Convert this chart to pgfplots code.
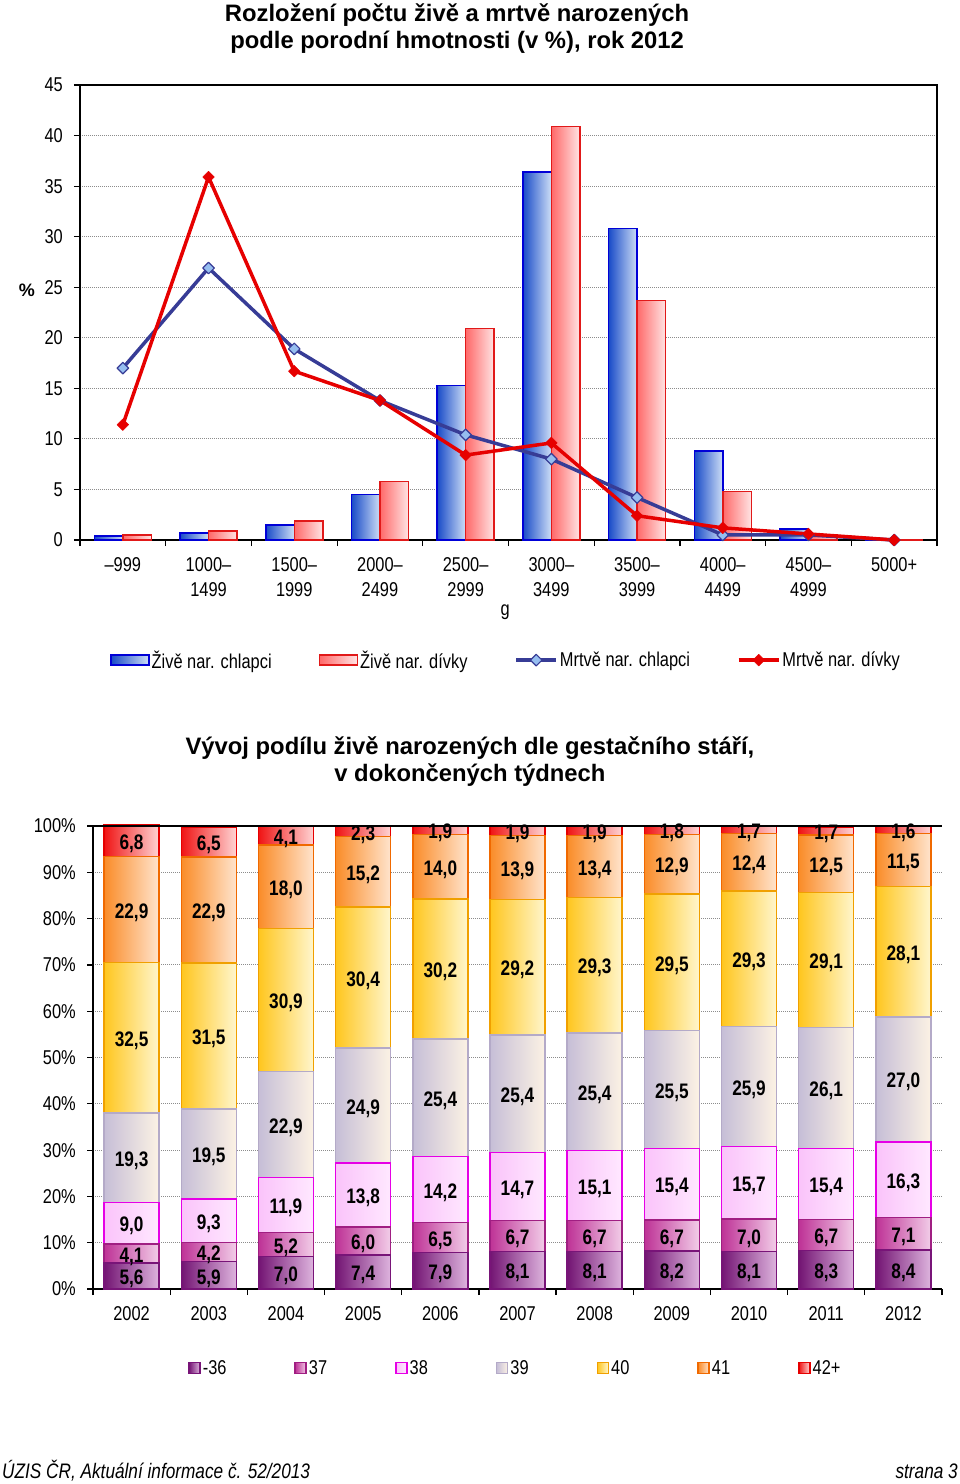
\documentclass[border=0pt]{standalone}
\usepackage{pgfplots}
\pgfplotsset{compat=1.18}
\usepackage{pgfplotstable}
\usepackage{fontspec}
\setmainfont{Liberation Sans}
\newfontfamily\narrow{Liberation Sans}[FakeStretch=0.82]

\definecolor{bluedark}{RGB}{25,75,200}
\definecolor{bluelight}{RGB}{205,222,246}
\definecolor{blueedge}{RGB}{0,0,215}
\definecolor{reddark}{RGB}{255,105,105}
\definecolor{redlight}{RGB}{255,228,228}
\definecolor{rededge}{RGB}{225,25,25}
\definecolor{navyline}{RGB}{55,60,150}
\definecolor{lightdiamond}{RGB}{150,190,240}
\definecolor{redline}{RGB}{230,0,0}
\definecolor{gridgray}{RGB}{140,140,140}

\definecolor{pA}{RGB}{115,20,115}\definecolor{pAl}{RGB}{222,180,222}\definecolor{pAe}{RGB}{120,20,120}
\definecolor{pB}{RGB}{190,50,150}\definecolor{pBl}{RGB}{242,205,232}\definecolor{pBe}{RGB}{160,30,130}
\definecolor{pC}{RGB}{250,195,250}\definecolor{pCl}{RGB}{255,232,255}\definecolor{pCe}{RGB}{230,0,230}
\definecolor{pD}{RGB}{198,190,215}\definecolor{pDl}{RGB}{252,242,228}\definecolor{pDe}{RGB}{180,170,200}
\definecolor{pE}{RGB}{255,198,30}\definecolor{pEl}{RGB}{255,246,205}\definecolor{pEe}{RGB}{240,160,0}
\definecolor{pF}{RGB}{250,140,40}\definecolor{pFl}{RGB}{255,228,205}\definecolor{pFe}{RGB}{240,105,0}
\definecolor{pG}{RGB}{240,20,20}\definecolor{pGl}{RGB}{255,212,212}\definecolor{pGe}{RGB}{230,0,0}

\pgfplotstableread{
x boys girls dboys dgirls
0 0.4 0.5 17.0 11.4
1 0.7 0.9 26.9 35.9
2 1.5 1.9 18.9 16.7
3 4.5 5.8 13.8 13.8
4 15.3 20.9 10.4 8.4
5 36.4 40.9 8.0 9.6
6 30.8 23.7 4.2 2.4
7 8.8 4.8 0.5 1.2
8 1.1 0.5 0.5 0.6
9 0.05 0.05 0.0 0.0
}\topdata

\pgfplotstableread{
x w36 w37 w38 w39 w40 w41 w42
0 5.6 4.1 9.0 19.3 32.5 22.9 6.8
1 5.9 4.2 9.3 19.5 31.5 22.9 6.5
2 7.0 5.2 11.9 22.9 30.9 18.0 4.1
3 7.4 6.0 13.8 24.9 30.4 15.2 2.3
4 7.9 6.5 14.2 25.4 30.2 14.0 1.9
5 8.1 6.7 14.7 25.4 29.2 13.9 1.9
6 8.1 6.7 15.1 25.4 29.3 13.4 1.9
7 8.2 6.7 15.4 25.5 29.5 12.9 1.8
8 8.1 7.0 15.7 25.9 29.3 12.4 1.7
9 8.3 6.7 15.4 26.1 29.1 12.5 1.7
10 8.4 7.1 16.3 27.0 28.1 11.5 1.6
}\botdata

\pgfplotsset{
  barlegend/.style={legend image code/.code={\draw[##1] (0pt,-5pt) rectangle (38pt,5pt);}},
  linelegend/.style={legend image code/.code={\draw[mark repeat=2,mark phase=2,##1] plot coordinates {(0pt,0pt) (20pt,0pt) (40pt,0pt)};}},
  sqlegend/.style={legend image code/.code={\draw[##1] (0pt,-5.5pt) rectangle (11pt,5.5pt);}},
  only row/.style={x filter/.code={\ifnum\coordindex=#1\relax\else\def\pgfmathresult{}\fi}},
  bboy/.style={ybar, bar width=28.5pt, bar shift=-14.25pt, draw=blueedge, line width=1.5pt, left color=bluedark, right color=bluelight},
  bgirl/.style={ybar, bar width=28.5pt, bar shift=14.25pt, draw=rededge, line width=1.5pt, left color=reddark, right color=redlight},
  s36/.style={draw=pAe, line width=1.5pt, left color=pA, right color=pAl},
  s37/.style={draw=pBe, line width=1.5pt, left color=pB, right color=pBl},
  s38/.style={draw=pCe, line width=1.5pt, left color=pC, right color=pCl},
  s39/.style={draw=pDe, line width=1.5pt, left color=pD, right color=pDl},
  s40/.style={draw=pEe, line width=1.5pt, left color=pE, right color=pEl},
  s41/.style={draw=pFe, line width=1.5pt, left color=pF, right color=pFl},
  s42/.style={draw=pGe, line width=1.5pt, left color=pG, right color=pGl},
  lab/.style={draw=none, mark=*, mark size=0pt, mark options={draw=none, fill=none}, point meta=explicit, forget plot},
  botgeom/.style={at={(93pt,-1289pt)}, anchor=south west, width=849pt, height=463pt, scale only axis, clip=false,
    xmin=-0.5, xmax=10.5, ymin=0, ymax=100},
}

\begin{document}
\begin{tikzpicture}
\path[use as bounding box] (0pt,0pt) rectangle (960pt,-1484pt);

% ---------------- top chart ----------------
\begin{axis}[
  at={(80pt,-540pt)}, anchor=south west,
  width=857pt, height=455pt, scale only axis, clip=false,
  xmin=-0.5, xmax=9.5, ymin=0, ymax=45,
  ytick={0,5,...,45},
  xtick={-0.5,0.5,...,9.5}, xticklabel=\empty,
  extra x ticks={0,...,9},
  extra x tick labels={{–999},{1000–\\1499},{1500–\\1999},{2000–\\2499},{2500–\\2999},{3000–\\3499},{3500–\\3999},{4000–\\4499},{4500–\\4999},{5000+}},
  extra x tick style={major tick length=0pt, tick style={draw=none}},
  tick align=outside, tick pos=left, major tick length=6pt,
  tick style={black, line width=1.2pt},
  ymajorgrids, major grid style={gridgray, dash pattern=on 1pt off 1pt, line width=0.9pt},
  axis line style={line width=1.6pt},
  /pgf/number format/assume math mode=true,
  ticklabel style={font=\narrow\fontsize{20}{25}\selectfont},
  yticklabel style={inner sep=0pt, xshift=-11pt},
  xticklabel style={align=center, inner sep=0pt, yshift=-17pt},
  xlabel={g}, xlabel style={font=\narrow\fontsize{20}{24}\selectfont, at={(axis description cs:0.496,-0.158)}, anchor=center},
  ylabel={\%}, ylabel style={font=\bfseries\fontsize{18}{20}\selectfont, rotate=-90, at={(axis description cs:-0.062,0.549)}, anchor=center},
  title={Rozložení počtu živě a mrtvě narozených\\podle porodní hmotnosti (v \%), rok 2012},
  title style={font=\bfseries\fontsize{23.8}{27}\selectfont, align=center, at={(axis description cs:0.44,1.110)}, anchor=center},
  legend columns=4,
  legend style={at={(axis description cs:0.035,-0.264)}, anchor=west, draw=none, fill=none, inner sep=0pt,
    font=\narrow\fontsize{20}{24}\selectfont, nodes={inner sep=2pt},
    /tikz/every even column/.append style={column sep=45pt}},
]
\addlegendimage{bboy, barlegend}
\addlegendentry{Živě nar. chlapci}
\addlegendimage{bgirl, barlegend}
\addlegendentry{Živě nar. dívky}
\pgfplotsinvokeforeach{0,...,9}{
  \addplot[bboy, forget plot, only row=#1] table[x=x,y=boys]{\topdata};
  \addplot[bgirl, forget plot, only row=#1] table[x=x,y=girls]{\topdata};
}
\addplot[navyline, line width=3.5pt, line join=round, mark=square*, mark size=4.1pt,
  mark options={solid, rotate=45, fill=lightdiamond, draw=navyline, line width=1.2pt}, linelegend]
  table[x=x,y=dboys]{\topdata};
\addlegendentry{Mrtvě nar. chlapci}
\addplot[redline, line width=3.5pt, line join=round, mark=square*, mark size=4.1pt,
  mark options={solid, rotate=45, fill=redline, draw=redline, line width=0.5pt}, linelegend]
  table[x=x,y=dgirls]{\topdata};
\addlegendentry{Mrtvě nar. dívky}
\end{axis}

% ---------------- bottom chart: frame, grid, labels, legend ----------------
\begin{axis}[
  botgeom,
  axis lines*=left,
  ytick={0,10,...,100},
  yticklabel={\pgfmathprintnumber{\tick}\%},
  xtick={-0.5,0.5,...,10.5}, xticklabel=\empty,
  extra x ticks={0,...,10},
  extra x tick labels={2002,2003,2004,2005,2006,2007,2008,2009,2010,2011,2012},
  extra x tick style={major tick length=0pt, tick style={draw=none}},
  tick align=outside, major tick length=6pt,
  tick style={black, line width=1.2pt},
  ymajorgrids, major grid style={gridgray, dash pattern=on 1pt off 1pt, line width=0.9pt},
  axis line style={line width=1.6pt},
  /pgf/number format/assume math mode=true,
  ticklabel style={font=\narrow\fontsize{20}{25}\selectfont},
  yticklabel style={inner sep=0pt, xshift=-11pt},
  xticklabel style={align=center, inner sep=0pt, yshift=-17pt},
  title={Vývoj podílu živě narozených dle gestačního stáří,\\v dokončených týdnech},
  title style={font=\bfseries\fontsize{23.8}{27}\selectfont, align=center, at={(axis description cs:0.444,1.1252)}, anchor=center},
  legend columns=7,
  legend style={at={(axis description cs:0.112,-0.1706)}, anchor=west, draw=none, fill=none, inner sep=0pt,
    font=\narrow\fontsize{20}{24}\selectfont, nodes={inner sep=2pt},
    /tikz/every even column/.append style={column sep=66pt}},
]
\addlegendimage{s36, sqlegend}\addlegendentry{-36}
\addlegendimage{s37, sqlegend}\addlegendentry{37}
\addlegendimage{s38, sqlegend}\addlegendentry{38}
\addlegendimage{s39, sqlegend}\addlegendentry{39}
\addlegendimage{s40, sqlegend}\addlegendentry{40}
\addlegendimage{s41, sqlegend}\addlegendentry{41}
\addlegendimage{s42, sqlegend}\addlegendentry{42+}
\addplot[draw=none, forget plot] coordinates {(0,0)};
\end{axis}

% ---------------- bottom chart: one stacked column per year ----------------
\pgfplotsinvokeforeach{0,...,10}{
\begin{axis}[
  botgeom, hide axis,
  ybar stacked, bar width=55pt,
  after end axis/.code={\draw[black, line width=1.6pt] (rel axis cs:0,1) -- (rel axis cs:1,1);},
]
\addplot[s36, only row=#1] table[x=x,y=w36]{\botdata};
\addplot[s37, only row=#1] table[x=x,y=w37]{\botdata};
\addplot[s38, only row=#1] table[x=x,y=w38]{\botdata};
\addplot[s39, only row=#1] table[x=x,y=w39]{\botdata};
\addplot[s40, only row=#1] table[x=x,y=w40]{\botdata};
\addplot[s41, only row=#1] table[x=x,y=w41]{\botdata};
\addplot[s42, only row=#1] table[x=x,y=w42]{\botdata};
\end{axis}
}

% ---------------- bottom chart: value labels centred in the segments ----------------
\begin{axis}[
  botgeom, hide axis,
  /pgf/number format/assume math mode=true,
  nodes near coords={\pgfmathprintnumber[fixed,fixed zerofill,precision=1,use comma]{\pgfplotspointmeta}},
  every node near coord/.append style={anchor=center, yshift=-3pt, text=black, inner sep=0pt,
     font=\narrow\bfseries\fontsize{21}{21}\selectfont},
]
\addplot[lab] table[x=x, meta=w36, y expr={\thisrow{w36}/2}]{\botdata};
\addplot[lab] table[x=x, meta=w37, y expr={\thisrow{w36}+\thisrow{w37}/2}]{\botdata};
\addplot[lab] table[x=x, meta=w38, y expr={\thisrow{w36}+\thisrow{w37}+\thisrow{w38}/2}]{\botdata};
\addplot[lab] table[x=x, meta=w39, y expr={\thisrow{w36}+\thisrow{w37}+\thisrow{w38}+\thisrow{w39}/2}]{\botdata};
\addplot[lab] table[x=x, meta=w40, y expr={\thisrow{w36}+\thisrow{w37}+\thisrow{w38}+\thisrow{w39}+\thisrow{w40}/2}]{\botdata};
\addplot[lab] table[x=x, meta=w41, y expr={\thisrow{w36}+\thisrow{w37}+\thisrow{w38}+\thisrow{w39}+\thisrow{w40}+\thisrow{w41}/2}]{\botdata};
\addplot[lab] table[x=x, meta=w42, y expr={\thisrow{w36}+\thisrow{w37}+\thisrow{w38}+\thisrow{w39}+\thisrow{w40}+\thisrow{w41}+\thisrow{w42}/2}]{\botdata};
\end{axis}

\node[anchor=west, inner sep=0pt] at (2pt,-1471pt) {\narrow\itshape\fontsize{21}{24}\selectfont ÚZIS ČR, Aktuální informace č. 52/2013};
\node[anchor=east, inner sep=0pt] at (958pt,-1471pt) {\narrow\itshape\fontsize{21}{24}\selectfont strana 3};
\end{tikzpicture}
\end{document}
